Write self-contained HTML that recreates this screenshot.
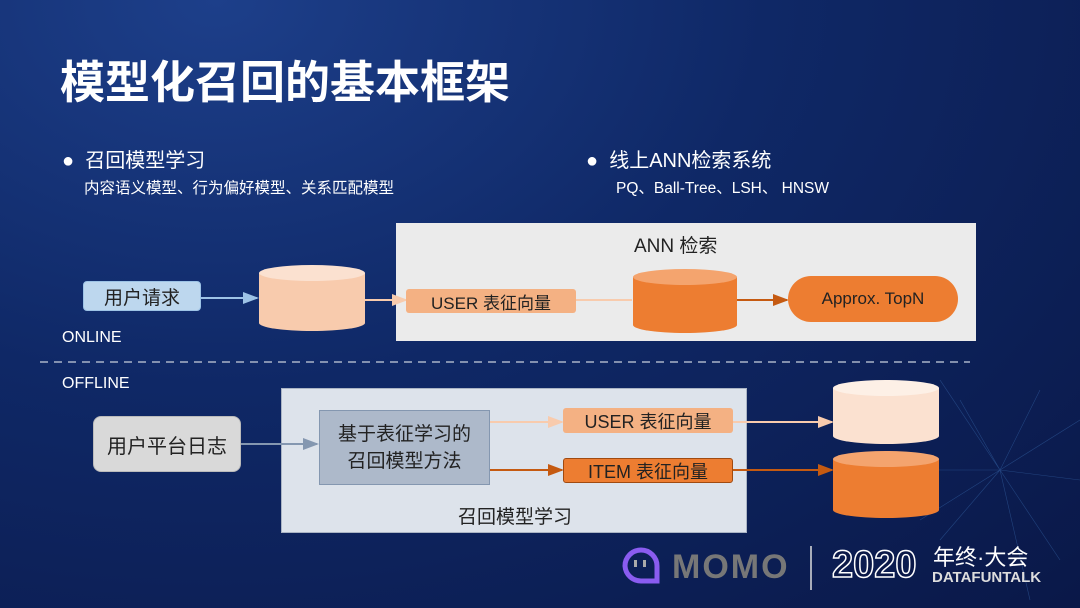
<!DOCTYPE html>
<html><head><meta charset="utf-8"><style>
body{margin:0;width:1080px;height:608px;overflow:hidden;font-family:"Liberation Sans","Noto Sans CJK SC",sans-serif;}
.bg{position:absolute;left:0;top:0;width:1080px;height:608px;background:radial-gradient(ellipse at 20% 0%,#1d3f8a 0%,#0f2866 45%,#0a1848 100%);}
.t{position:absolute;white-space:nowrap;}
.b{position:absolute;box-sizing:border-box;display:flex;align-items:center;justify-content:center;text-align:center;}
</style></head><body><div class="bg"></div>
<div class="t" style="left:60px;top:46px;font-size:45px;font-weight:bold;color:#fff;">模型化召回的基本框架</div>
<div class="t" style="left:62px;top:144px;font-size:20px;color:#fff;">●&nbsp; 召回模型学习</div>
<div class="t" style="left:84px;top:176px;font-size:15.5px;color:#fff;">内容语义模型、行为偏好模型、关系匹配模型</div>
<div class="t" style="left:586px;top:144px;font-size:20px;color:#fff;">●&nbsp; 线上ANN检索系统</div>
<div class="t" style="left:616px;top:176px;font-size:15.5px;color:#fff;">PQ、Ball-Tree、LSH、 HNSW</div>

<div class="b" style="left:396px;top:223px;width:580px;height:118px;background:#ebebeb;"></div>
<div class="t" style="left:634px;top:231px;font-size:19px;color:#222;">ANN 检索</div>
<div class="b" style="left:281px;top:388px;width:466px;height:145px;background:#dde3eb;border:1px solid #aab4c4;"></div>
<div class="t" style="left:458px;top:502px;font-size:19px;color:#222;">召回模型学习</div>

<svg style="position:absolute;left:0;top:0" width="1080" height="608">
<defs>
<marker id="a1" markerWidth="8" markerHeight="8" refX="7" refY="4" orient="auto"><path d="M0,1 L8,4 L0,7z" fill="#9dc3e6"/></marker>
<marker id="a2" markerWidth="8" markerHeight="8" refX="7" refY="4" orient="auto"><path d="M0,1 L8,4 L0,7z" fill="#f8cbad"/></marker>
<marker id="a3" markerWidth="8" markerHeight="8" refX="7" refY="4" orient="auto"><path d="M0,1 L8,4 L0,7z" fill="#c55a11"/></marker>
<marker id="a4" markerWidth="8" markerHeight="8" refX="7" refY="4" orient="auto"><path d="M0,1 L8,4 L0,7z" fill="#8497b0"/></marker>
</defs>
<g stroke="#3a6cb0" stroke-width="0.6" opacity="0.5" fill="none">
<path d="M940,380 L1000,470 L1080,420 M940,540 L1000,470 L1060,560 M900,470 L1000,470 L1080,480 M960,400 L1000,470 L1040,390 M920,520 L1000,470 L1030,600"/>
</g>
<line x1="201" y1="298" x2="257" y2="298" stroke="#9dc3e6" stroke-width="2" marker-end="url(#a1)"/>
<line x1="365" y1="300" x2="406" y2="300" stroke="#f8cbad" stroke-width="2" marker-end="url(#a2)"/>
<line x1="576" y1="300" x2="632" y2="300" stroke="#f8cbad" stroke-width="2"/>
<line x1="737" y1="300" x2="787" y2="300" stroke="#c55a11" stroke-width="2" marker-end="url(#a3)"/>
<line x1="40" y1="362" x2="970" y2="362" stroke="#aab4c8" stroke-width="1.5" stroke-dasharray="8,6"/>
<line x1="241" y1="444" x2="317" y2="444" stroke="#8497b0" stroke-width="2" marker-end="url(#a4)"/>
<line x1="490" y1="422" x2="562" y2="422" stroke="#f8cbad" stroke-width="2" marker-end="url(#a2)"/>
<line x1="490" y1="470" x2="562" y2="470" stroke="#c55a11" stroke-width="2" marker-end="url(#a3)"/>
<line x1="733" y1="422" x2="832" y2="422" stroke="#f8cbad" stroke-width="2" marker-end="url(#a2)"/>
<line x1="733" y1="470" x2="832" y2="470" stroke="#c55a11" stroke-width="2" marker-end="url(#a3)"/>
<g><path d="M259,273 v50 a53,8 0 0 0 106,0 v-50z" fill="#f8cbad"/><ellipse cx="312" cy="273" rx="53" ry="8" fill="#fbe1d0"/></g>
<g><path d="M633,277 v48 a52,8 0 0 0 104,0 v-48z" fill="#ed7d31"/><ellipse cx="685" cy="277" rx="52" ry="8" fill="#f4a46e"/></g>
<g><path d="M833,388 v48 a53,8 0 0 0 106,0 v-48z" fill="#fbe1d0"/><ellipse cx="886" cy="388" rx="53" ry="8" fill="#fdf0e6"/></g>
<g><path d="M833,459 v51 a53,8 0 0 0 106,0 v-51z" fill="#ed7d31"/><ellipse cx="886" cy="459" rx="53" ry="8" fill="#f4a46e"/></g>
<path d="M625,566 a16,16 0 1 1 32,0 v15 h-16 a16,16 0 0 1 -16,-15z" fill="none" stroke="#8a5cf0" stroke-width="5"/>
<rect x="634" y="560" width="3" height="7" fill="#aaa"/><rect x="643" y="560" width="3" height="7" fill="#aaa"/>
<line x1="811" y1="546" x2="811" y2="590" stroke="#ddd" stroke-width="1.5"/>
</svg>

<div class="b" style="left:83px;top:281px;width:118px;height:30px;background:#bdd7ee;border:1px solid #9dc3e6;border-radius:4px;font-size:19px;color:#222;">用户请求</div>
<div class="b" style="left:406px;top:289px;width:170px;height:24px;background:#f4b183;border-radius:3px;font-size:17px;color:#222;">USER 表征向量</div>
<div class="b" style="left:788px;top:276px;width:170px;height:46px;background:#ed7d31;border-radius:23px;font-size:17px;color:#222;">Approx. TopN</div>
<div class="t" style="left:62px;top:329px;font-size:16px;color:#fff;">ONLINE</div>
<div class="t" style="left:62px;top:375px;font-size:16px;color:#fff;">OFFLINE</div>
<div class="b" style="left:93px;top:416px;width:148px;height:56px;background:#d9d9d9;border:1px solid #bbb;border-radius:8px;font-size:20px;color:#222;">用户平台日志</div>
<div class="b" style="left:319px;top:410px;width:171px;height:75px;background:#adb9ca;border:1px solid #8497b0;font-size:19px;color:#222;line-height:27px;">基于表征学习的<br>召回模型方法</div>
<div class="b" style="left:563px;top:408px;width:170px;height:25px;background:#f4b183;border-radius:3px;font-size:18px;color:#222;">USER 表征向量</div>
<div class="b" style="left:563px;top:458px;width:170px;height:25px;background:#ed7d31;border:1px solid #a04a10;border-radius:3px;font-size:18px;color:#222;">ITEM 表征向量</div>

<div class="t" style="left:672px;top:548px;font-size:34px;font-weight:bold;color:#777;letter-spacing:2px;">MOMO</div>
<div class="t" style="left:832px;top:544px;font-size:38px;font-weight:bold;color:#0a1848;-webkit-text-stroke:1.5px #fff;">2020</div>
<div class="t" style="left:933px;top:540px;font-size:22px;color:#fff;">年终·大会</div>
<div class="t" style="left:932px;top:569px;font-size:15px;font-weight:bold;color:#ddd;">DATAFUNTALK</div>
</body></html>
